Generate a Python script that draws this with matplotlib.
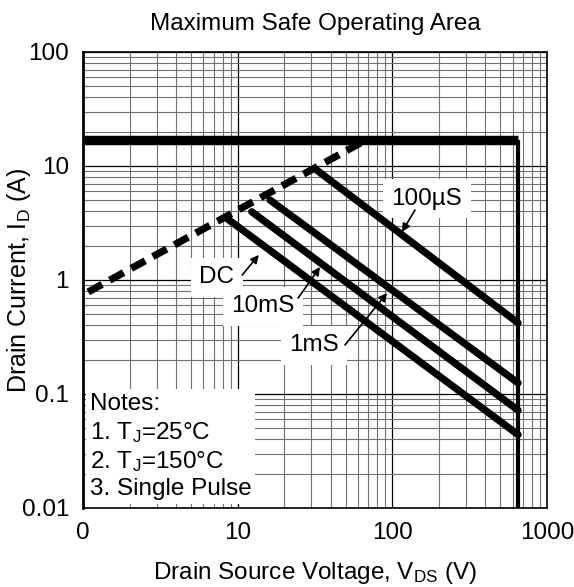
import matplotlib
matplotlib.use("Agg")
import matplotlib.pyplot as plt
from matplotlib.ticker import FixedLocator, NullFormatter, LogLocator

plt.rcParams['font.family'] = ['Liberation Sans', 'DejaVu Sans']
plt.rcParams['mathtext.fontset'] = 'custom'
plt.rcParams['mathtext.rm'] = 'Liberation Sans'
plt.rcParams['mathtext.it'] = 'Liberation Sans:italic'
plt.rcParams['mathtext.default'] = 'regular'

# Data
x_ticks = [1, 10, 100, 1000]
x_ticklabels = ['0', '10', '100', '1000']
y_ticks = [0.01, 0.1, 1, 10, 100]
y_ticklabels = ['0.01', '0.1', '1', '10', '100']

# current / voltage limits
id_max = 17
vds_max = 650

# Rds(on) limit (dashed)
rds_v = [1.08, 68]
rds_i = [0.785, 17]

# pulse lines: start point on Rds line, end at Vds max
pulse_names = ['DC', '10mS', '1mS', '100µS']
pulse_v0 = [8.49, 12.33, 16.18, 32.4]
pulse_i0 = [3.48, 3.97, 5.03, 9.22]
pulse_i1 = [0.044, 0.072, 0.125, 0.42]

# label positions (text centre, arrow tail, arrow tip)
lab_xy = [(7.35, 1.06), (14.6, 0.591), (31.2, 0.269), (167.5, 5.14)]
arrow_tail = [(10.7, 1.106), (24.6, 0.695), (49.4, 0.269), (140, 4.11)]
arrow_tip = [(13.7, 1.66), (34.1, 1.30), (92.4, 0.769), (115.4, 2.64)]

fs = 17.5

fig = plt.figure(figsize=(5.74, 5.87), dpi=100)
ax = fig.add_axes([83/574, 79/587, 464/574, 456/587])
ax.set_xscale('log')
ax.set_yscale('log')
ax.set_xlim(1, 1000)
ax.set_ylim(0.01, 100)

ax.xaxis.set_major_locator(FixedLocator(x_ticks))
ax.set_xticklabels(x_ticklabels)
ax.yaxis.set_major_locator(FixedLocator(y_ticks))
ax.set_yticklabels(y_ticklabels)
ax.xaxis.set_minor_locator(LogLocator(base=10, subs=range(2, 10)))
ax.yaxis.set_minor_locator(LogLocator(base=10, subs=range(2, 10)))
ax.xaxis.set_minor_formatter(NullFormatter())
ax.yaxis.set_minor_formatter(NullFormatter())
ax.tick_params(which='both', length=0, labelsize=fs)
ax.tick_params(axis='x', pad=10)
ax.tick_params(axis='y', pad=10)

ax.set_axisbelow(True)
ax.grid(True, which='major', color='black', lw=0.9)
ax.grid(True, which='minor', color='#707070', lw=0.8)
for s in ax.spines.values():
    s.set_linewidth(1.2)
ax.spines['left'].set_linewidth(2)

# limit lines
ax.plot([1, vds_max], [id_max, id_max], color='black', lw=6.8, solid_capstyle='butt', zorder=3)
ax.plot([vds_max, vds_max], [id_max, 0.01], color='black', lw=3, solid_capstyle='butt', zorder=3)
ax.plot(rds_v, rds_i, color='black', lw=5.2, dashes=(2.2, 1.2), zorder=3)

for i in range(len(pulse_names)):
    ax.plot([pulse_v0[i], vds_max], [pulse_i0[i], pulse_i1[i]], color='black', lw=5.2,
            solid_capstyle='round', zorder=3)
    ax.text(lab_xy[i][0], lab_xy[i][1], pulse_names[i], fontsize=fs, ha='center', va='center',
            bbox=dict(boxstyle='square,pad=0.35', fc='white', ec='none'), zorder=2)
    ax.annotate('', xy=arrow_tip[i], xytext=arrow_tail[i],
                arrowprops=dict(arrowstyle='-|>', color='black', lw=1.2,
                                mutation_scale=12, shrinkA=0, shrinkB=0), zorder=4)

notes = 'Notes:\n1. T$_{J}$=25°C\n2. T$_{J}$=150°C\n3. Single Pulse'
ax.text(1.11, 0.0345, notes, fontsize=fs, ha='left', va='center', linespacing=1.25,
        bbox=dict(boxstyle='square,pad=0.15', fc='white', ec='none'), zorder=2)

ax.set_title('Maximum Safe Operating Area', fontsize=fs, pad=16)
ax.set_xlabel('Drain Source Voltage, V$_{DS}$ (V)', fontsize=fs)
ax.set_ylabel('Drain Current, I$_{D}$ (A)', fontsize=18)
ax.xaxis.set_label_coords(0.5, -0.115)
ax.yaxis.set_label_coords(-0.108, 0.5)

fig.savefig('out.png', dpi=100)
